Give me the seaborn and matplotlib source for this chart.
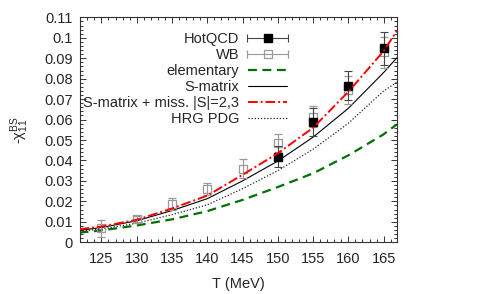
import numpy as np
import pandas as pd
import matplotlib
matplotlib.use("Agg")
import matplotlib.pyplot as plt
import seaborn as sns
from matplotlib.container import ErrorbarContainer
from matplotlib.legend_handler import HandlerErrorbar
from matplotlib.ticker import MultipleLocator

# lattice data
T_hot = [150, 155, 160, 165]
chi_hot = [0.0419, 0.0588, 0.0766, 0.0949]
err_hot = [0.005, 0.007, 0.007, 0.008]

T_wb = [125, 130, 135, 140, 145, 150, 155, 160, 165]
chi_wb = [0.0068, 0.0114, 0.0186, 0.0260, 0.0360, 0.0484, 0.0614, 0.0745, 0.0929]
err_wb = [0.0040, 0.0015, 0.0030, 0.0030, 0.0045, 0.0045, 0.0050, 0.0070, 0.0075]

# model curves
T_curve = [121.9, 125, 130, 135, 140, 145, 150, 155, 160, 165, 166.9]
chi_elem = [0.0047, 0.0058, 0.0082, 0.0112, 0.0152, 0.0207, 0.0270, 0.0337, 0.0425, 0.0528, 0.0577]
chi_smat = [0.0058, 0.0072, 0.0105, 0.0155, 0.0213, 0.0300, 0.0397, 0.0514, 0.0655, 0.0830, 0.0903]
chi_miss = [0.0064, 0.0077, 0.0110, 0.0165, 0.0228, 0.0330, 0.0435, 0.0560, 0.0736, 0.0935, 0.1035]
chi_pdg = [0.0053, 0.0065, 0.0093, 0.0135, 0.0183, 0.0262, 0.0350, 0.0455, 0.0582, 0.0740, 0.0783]

sns.set_style("ticks")
plt.rcParams["font.family"] = ["Liberation Sans", "DejaVu Sans"]
plt.rcParams["mathtext.default"] = "regular"

FS = 10.5

fig = plt.figure(figsize=(4.91, 2.94), dpi=100)
ax = fig.add_axes([0.162, 0.176, 0.6466, 0.765])

curves = pd.DataFrame({"T": T_curve, "elem": chi_elem, "smat": chi_smat,
                       "miss": chi_miss, "pdg": chi_pdg})

# data points (no label, legend uses proxies below)
ax.errorbar(T_wb, chi_wb, yerr=err_wb, fmt="s", ms=6, mfc="none", mec="#999999",
            mew=0.9, ecolor="#999999", elinewidth=0.8, capsize=3, capthick=0.8, zorder=3)
ax.errorbar(T_hot, chi_hot, yerr=err_hot, fmt="s", ms=6, mfc="black", mec="black",
            ecolor="#444444", elinewidth=0.8, capsize=3, capthick=0.8, zorder=4)

p_hot = ax.errorbar([np.nan], [np.nan], xerr=[1], fmt="s", ms=6, mfc="black", mec="black",
                    ecolor="#444444", elinewidth=0.8, capsize=3, capthick=0.8, label="HotQCD")
p_wb = ax.errorbar([np.nan], [np.nan], xerr=[1], fmt="s", ms=6, mfc="none", mec="#999999",
                   mew=0.9, ecolor="#999999", elinewidth=0.8, capsize=3, capthick=0.8, label="WB")

sns.lineplot(data=curves, x="T", y="elem", ax=ax, color="#007000", lw=1.6,
             label="elementary", zorder=2).lines[-1].set_dashes([4, 2.5])
sns.lineplot(data=curves, x="T", y="smat", ax=ax, color="black", lw=0.8,
             label="S-matrix", zorder=2)
l_miss = sns.lineplot(data=curves, x="T", y="miss", ax=ax, color="#ff0000", lw=1.4,
                      label="S-matrix + miss. |S|=2,3", zorder=5).lines[-1]
l_miss.set_dashes([5, 1.5, 1, 1.5])
l_pdg = sns.lineplot(data=curves, x="T", y="pdg", ax=ax, color="#222222", lw=0.9,
                     label="HRG PDG", zorder=2).lines[-1]
l_pdg.set_dashes([1, 1.5])

ax.set_xlim(121.9, 166.9)
ax.set_ylim(0, 0.11)
ax.xaxis.set_major_locator(MultipleLocator(5))
ax.xaxis.set_minor_locator(MultipleLocator(1))
ax.yaxis.set_minor_locator(MultipleLocator(0.002))
ax.set_yticks(np.arange(0, 0.111, 0.01))
ax.set_yticklabels(["0", "0.01", "0.02", "0.03", "0.04", "0.05", "0.06", "0.07",
                    "0.08", "0.09", "0.1", "0.11"])
ax.tick_params(which="both", direction="in", top=True, right=True, labelsize=FS,
               width=0.7, color="#333333")
ax.tick_params(which="major", length=4)
ax.tick_params(which="minor", length=2.2)
ax.tick_params(axis="x", pad=7)
ax.tick_params(axis="y", pad=5)
for s in ax.spines.values():
    s.set_linewidth(0.8)
    s.set_color("#333333")

ax.set_xlabel("T (MeV)", fontsize=FS, labelpad=8)
ax.set_ylabel("-χ$_{11}^{BS}$", fontsize=FS, labelpad=9)

handles, labels = ax.get_legend_handles_labels()
order = ["HotQCD", "WB", "elementary", "S-matrix", "S-matrix + miss. |S|=2,3", "HRG PDG"]
hmap = dict(zip(labels, handles))
ax.legend([hmap[k] for k in order], order, loc="upper right",
          bbox_to_anchor=(0.6, 0.915), bbox_transform=fig.transFigure,
          frameon=False, markerfirst=False, fontsize=FS, handlelength=2.7,
          handletextpad=0.6, labelspacing=0.13, borderpad=0,
          handler_map={ErrorbarContainer: HandlerErrorbar(xerr_size=1.4)})

fig.savefig("out.png", dpi=100)
